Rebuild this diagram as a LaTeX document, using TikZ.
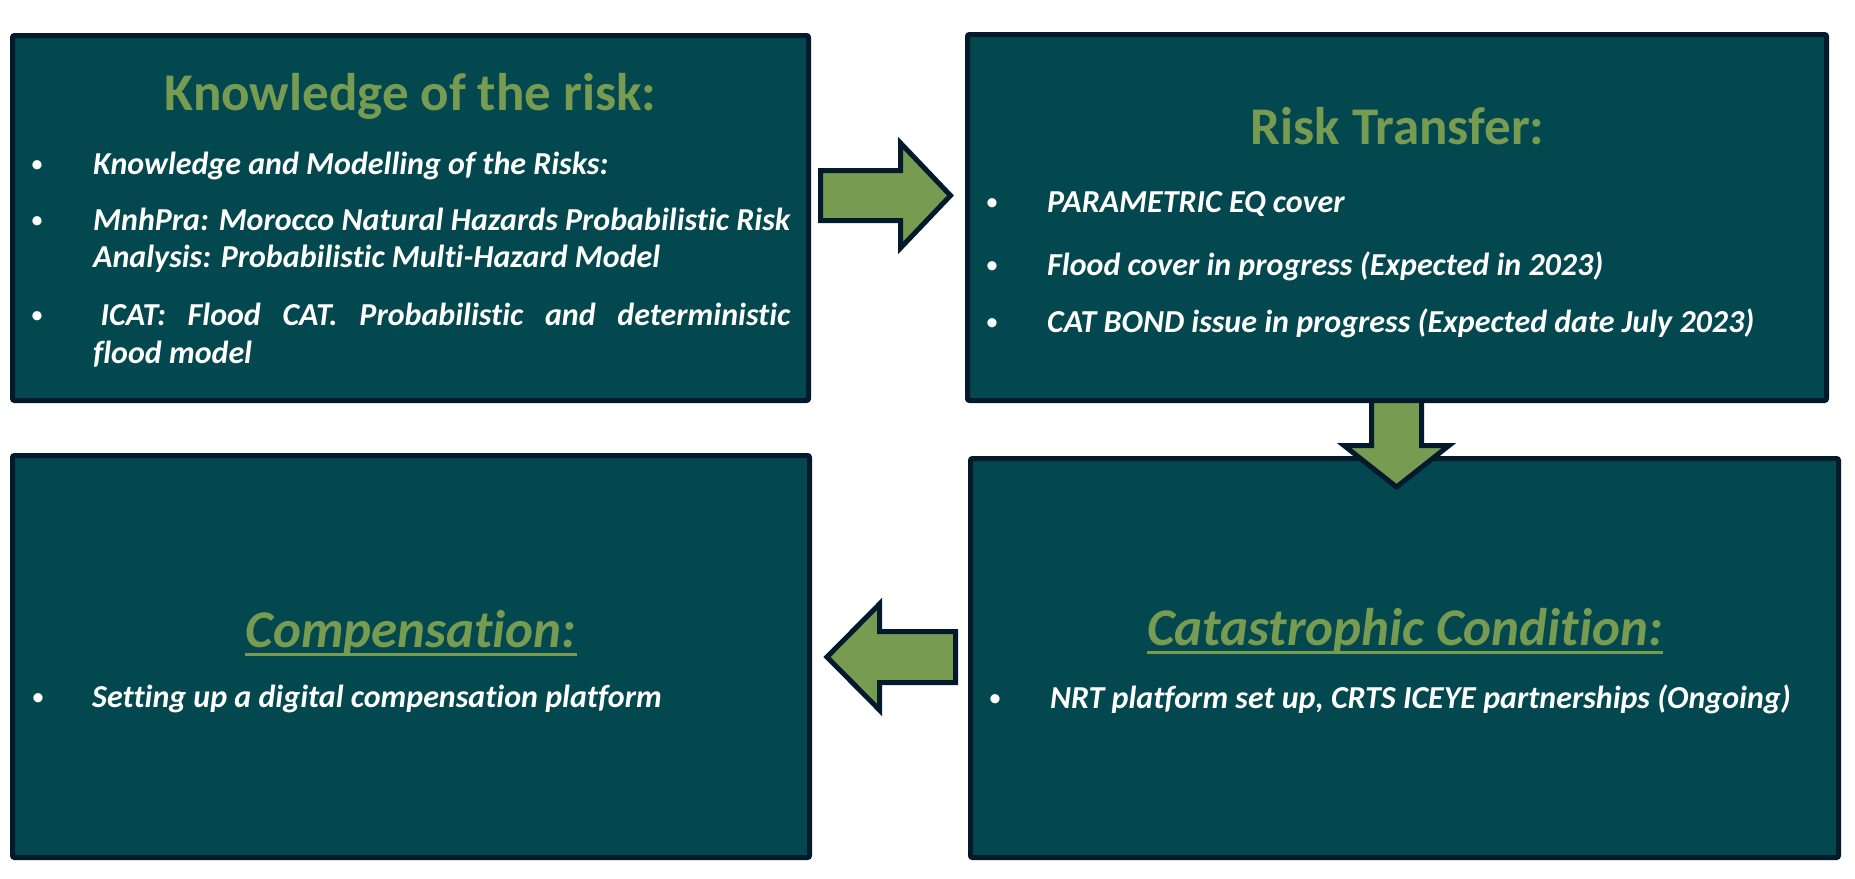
\documentclass[tikz,border=0pt]{standalone}
\usepackage{fontspec}
\setmainfont{Carlito}[Ligatures=NoCommon]
\definecolor{boxfill}{HTML}{03474F}
\definecolor{boxline}{HTML}{021A2B}
\definecolor{leaf}{HTML}{779B51}
\tikzset{
  panel/.style={draw=boxline, fill=boxfill, line width=5pt, rounded corners=2pt, inner sep=0, outer sep=0},
  blockarrow/.style={draw=boxline, fill=leaf, line width=5pt, line join=miter},
  ttl/.style={text=leaf, font=\fontsize{53}{64}\selectfont\bfseries, anchor=base, inner sep=0},
  ittl/.style={text=leaf, font=\fontsize{53}{64}\selectfont\bfseries\itshape, anchor=base, inner sep=0},
  itm/.style={text=white, font=\fontsize{32}{38}\selectfont\bfseries\itshape, anchor=base west, inner sep=0},
  bul/.style={text=white, font=\fontsize{26}{30}\selectfont, anchor=base, inner sep=0},
  uline/.style={draw=leaf, line width=3pt},
}
\begin{document}
\begin{tikzpicture}[x=1pt,y=-1pt]
\useasboundingbox[fill=white] (0,0) rectangle (1855,878);

% panels
\node[panel, minimum width=796pt, minimum height=365pt] (b1) at (410.5,218) {};
\node[panel, minimum width=859pt, minimum height=366pt] (b2) at (1397,217.5) {};
\node[panel, minimum width=797pt, minimum height=402pt] (b3) at (411,656.5) {};
\node[panel, minimum width=868pt, minimum height=399pt] (b4) at (1404.5,658) {};

% block arrows
\draw[blockarrow] (820.5,170.5) -- (900.5,170.5) -- (900.5,143) -- (950.5,195.5) -- (900.5,248) -- (900.5,220.5) -- (820.5,220.5) -- cycle;
\draw[blockarrow] (1371.5,400.5) -- (1371.5,445.5) -- (1344,445.5) -- (1396.5,487) -- (1449,445.5) -- (1421.5,445.5) -- (1421.5,400.5) -- cycle;
\draw[blockarrow] (955.5,631.5) -- (879.5,631.5) -- (879.5,604) -- (827,657) -- (879.5,710) -- (879.5,682.5) -- (955.5,682.5) -- cycle;

% box 1
\node[ttl] (t1) at (410.5,110) {Knowledge of the risk:};
\node[bul] (d11) at (37,172) {•};
\node[itm] (i11) at (93,174) {Knowledge and Modelling of the Risks:};
\node[bul] (d12) at (37,228) {•};
\node[itm] (i12a) at (93,230) {\makebox[697pt][s]{MnhPra: Morocco Natural Hazards Probabilistic Risk}};
\node[itm] (i12b) at (93,267) {Analysis: Probabilistic Multi-Hazard Model};
\node[bul] (d13) at (37,323) {•};
\node[itm] (i13a) at (100.5,325) {\makebox[689.5pt][s]{ICAT: Flood CAT. Probabilistic and deterministic}};
\node[itm] (i13b) at (93,363) {flood model};

% box 2
\node[ttl] (t2) at (1397.5,144) {Risk Transfer:};
\node[bul] (d21) at (992,210) {•};
\node[itm] (i21) at (1047,212) {PARAMETRIC EQ cover};
\node[bul] (d22) at (992,273) {•};
\node[itm] (i22) at (1047,275) {Flood cover in progress (Expected in 2023)};
\node[bul] (d23) at (992,330) {•};
\node[itm] (i23) at (1047,332) {CAT BOND issue in progress (Expected date July 2023)};

% box 3
\node[ittl] (t3) at (411,647) {Compensation:};
\draw[uline] ([yshift=-7pt]t3.base west) -- ([yshift=-7pt]t3.base east);
\node[bul] (d31) at (38,705) {•};
\node[itm] (i31) at (92,707) {Setting up a digital compensation platform};

% box 4
\node[ittl] (t4) at (1405,645) {Catastrophic Condition:};
\draw[uline] ([yshift=-7pt]t4.base west) -- ([yshift=-7pt]t4.base east);
\node[bul] (d41) at (995,706) {•};
\node[itm] (i41) at (1050,708) {NRT platform set up, CRTS ICEYE partnerships (Ongoing)};
\end{tikzpicture}
\end{document}
